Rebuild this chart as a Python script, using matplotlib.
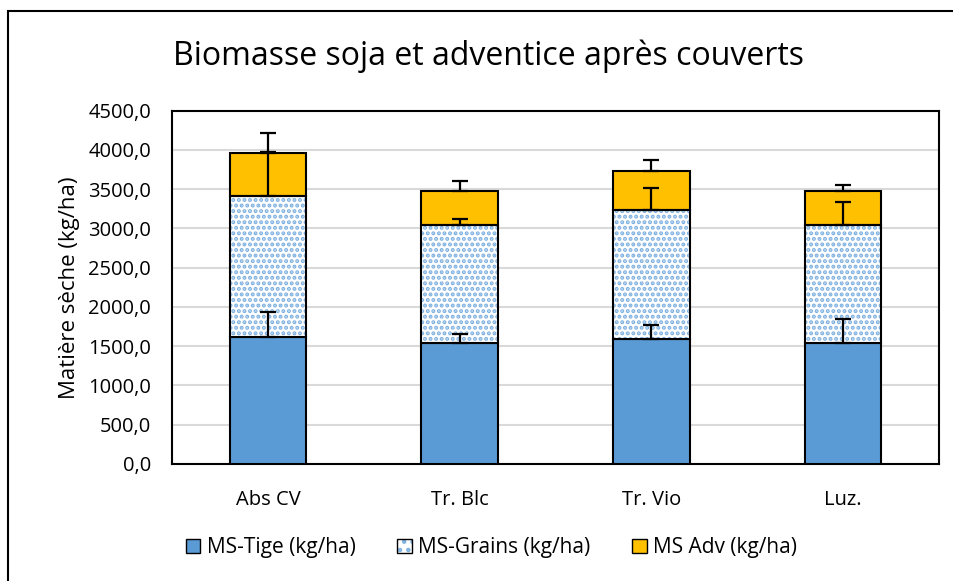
import matplotlib
matplotlib.use("Agg")
import matplotlib.pyplot as plt
import numpy as np
from matplotlib.patches import Rectangle, Patch
from matplotlib.legend_handler import HandlerTuple

categories = ["Abs CV", "Tr. Blc", "Tr. Vio", "Luz."]
tige = [1614, 1538, 1589, 1535]
grains = [1793, 1510, 1640, 1515]
adv = [548, 428, 497, 430]
err_tige = [318, 114, 178, 312]
err_grains = [573, 67, 283, 292]
err_adv = [255, 132, 145, 76]
yticks = [0, 500, 1000, 1500, 2000, 2500, 3000, 3500, 4000, 4500]

plt.rcParams['font.family'] = ['Open Sans', 'DejaVu Sans']
plt.rcParams['hatch.linewidth'] = 2.0

fig = plt.figure(figsize=(9.54, 5.81), dpi=100)
ax = fig.add_axes([0.1803, 0.2014, 0.8040, 0.6081])

x = np.arange(len(categories))
w = 0.40
c_tige = "#5B9BD5"
c_adv = "#FFC000"
c_dot = "#7FB1E0"

tige_a = np.array(tige)
grains_a = np.array(grains)
adv_a = np.array(adv)

ax.bar(x, tige_a, w, color=c_tige, edgecolor="black", linewidth=1.5, zorder=3)
ax.bar(x, grains_a, w, bottom=tige_a, color="white", edgecolor=c_dot,
       hatch="...", linewidth=0, zorder=3)
ax.bar(x, grains_a, w, bottom=tige_a, fill=False, edgecolor="black", linewidth=1.5, zorder=4)
ax.bar(x, adv_a, w, bottom=tige_a + grains_a, color=c_adv, edgecolor="black", linewidth=1.5, zorder=3)

ekw = dict(fmt="none", ecolor="black", elinewidth=1.6, capsize=6, capthick=1.6, zorder=5)
ax.errorbar(x, tige_a, yerr=[np.zeros(4), err_tige], **ekw)
ax.errorbar(x, tige_a + grains_a, yerr=[np.zeros(4), err_grains], **ekw)
ax.errorbar(x, tige_a + grains_a + adv_a, yerr=[np.zeros(4), err_adv], **ekw)

ax.set_xlim(-0.5, 3.5)
ax.set_ylim(0, 4500)
ax.set_yticks(yticks)
ax.set_yticklabels([f"{v:.1f}".replace(".", ",") for v in yticks], fontsize=14.5)
ax.set_xticks(x)
ax.set_xticklabels(categories, fontsize=14.5)
ax.tick_params(axis="y", length=0, pad=15)
ax.tick_params(axis="x", length=0, pad=19)
ax.yaxis.grid(True, color="#D9D9D9", linewidth=1.5, zorder=0)
ax.set_axisbelow(True)
for s in ax.spines.values():
    s.set_color("black")
    s.set_linewidth(1.5)

ax.set_ylabel("Matière sèche (kg/ha)", fontsize=16, labelpad=6)
fig.text(0.512, 0.903, "Biomasse soja et adventice après couverts", fontsize=23,
         ha="center", va="center")

handles = [
    Patch(facecolor=c_tige, edgecolor="black", linewidth=1),
    (Patch(facecolor="white", edgecolor=c_dot, hatch="..", linewidth=0),
     Patch(fill=False, edgecolor="black", linewidth=1)),
    Patch(facecolor=c_adv, edgecolor="black", linewidth=1),
]
labels = ["MS-Tige (kg/ha)", "MS-Grains (kg/ha)", "MS Adv (kg/ha)"]
leg = fig.legend(handles, labels, loc="center", bbox_to_anchor=(0.515, 0.057), ncol=3,
                 frameon=False, fontsize=15, handlelength=0.7, handleheight=0.7,
                 handletextpad=0.3, columnspacing=2.0,
                 handler_map={tuple: HandlerTuple(ndivide=1, pad=0)})

# figure border
fig.patches.append(Rectangle((8 / 954, -0.01), 1.0, 1 - 11 / 581 + 0.01,
                             transform=fig.transFigure, fill=False,
                             edgecolor="black", linewidth=1.5))

fig.savefig("out.png", dpi=100)
